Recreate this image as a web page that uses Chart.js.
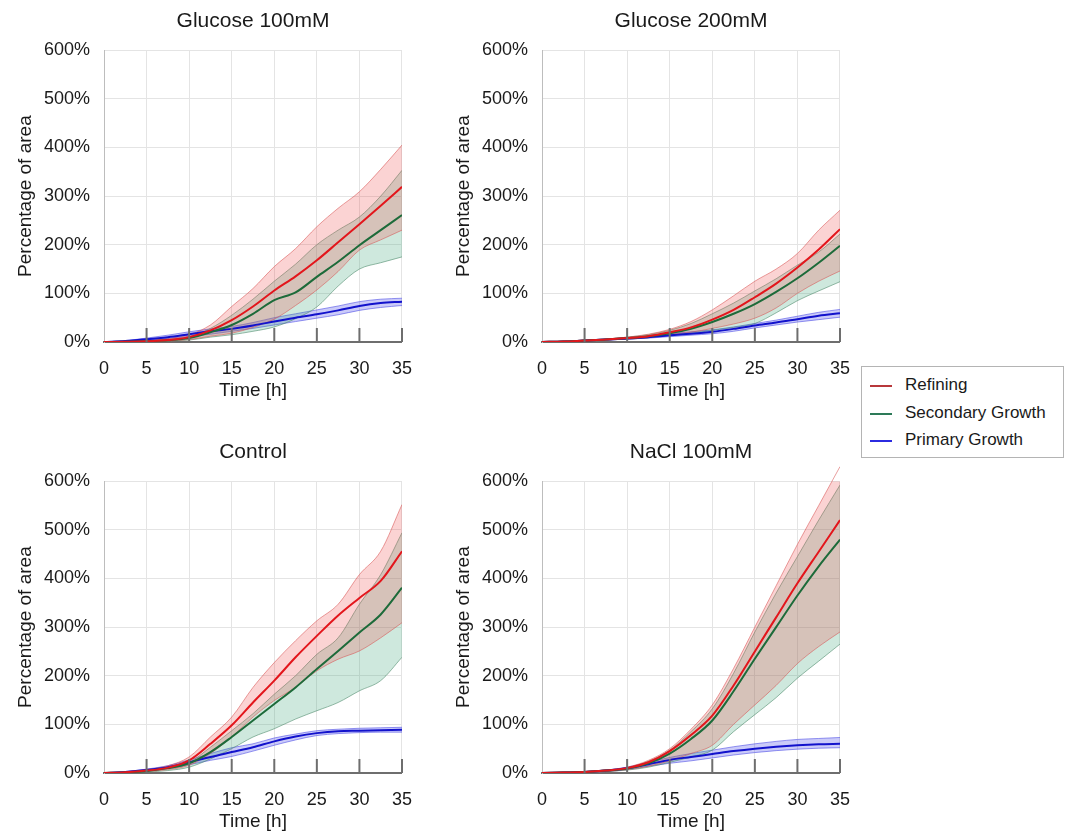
<!DOCTYPE html>
<html>
<head>
<meta charset="utf-8">
<script src="https://cdn.jsdelivr.net/npm/chart.js@4.4.1/dist/chart.umd.min.js"></script>
<style>
  html,body{margin:0;padding:0;background:#fff;}
  body{width:1072px;height:834px;position:relative;overflow:hidden;font-family:"Liberation Sans",Arial,sans-serif;}
  .panel{position:absolute;width:428px;height:402px;}
  .legend{position:absolute;left:861px;top:366px;width:201px;height:90px;border:1px solid #b4b4b4;background:#fff;}
  .legend .row{position:absolute;left:0;height:20px;font-size:17px;color:#1a1a1a;line-height:20px;}
  .legend .sw{position:absolute;left:8px;top:10px;width:22px;height:2px;}
  .legend .lbl{position:absolute;left:43px;top:0;white-space:nowrap;}
</style>
</head>
<body>
<div class="panel" style="left:0;top:0;"><canvas id="cG100"></canvas></div>
<div class="panel" style="left:438px;top:0;"><canvas id="cG200"></canvas></div>
<div class="panel" style="left:0;top:431px;"><canvas id="cCtrl"></canvas></div>
<div class="panel" style="left:438px;top:431px;"><canvas id="cNacl"></canvas></div>

<div class="legend">
  <div class="row" style="top:8px;"><div class="sw" style="background:#b8383b"></div><span class="lbl">Refining</span></div>
  <div class="row" style="top:36px;"><div class="sw" style="background:#2d7a58"></div><span class="lbl">Secondary Growth</span></div>
  <div class="row" style="top:63px;"><div class="sw" style="background:#2b2be0"></div><span class="lbl">Primary Growth</span></div>
</div>

<script>
// time points (h)
const hours = [0, 2.5, 5, 7.5, 10, 12.5, 15, 17.5, 20, 22.5, 25, 27.5, 30, 32.5, 35];
const xTicks = [0, 5, 10, 15, 20, 25, 30, 35];
const yTicks = [0, 100, 200, 300, 400, 500, 600];

// Glucose 100mM
const g100RefMean = [0, 0.5, 1.5, 4, 10, 24, 45, 73, 106, 135, 168, 205, 242, 280, 319];
const g100RefHi   = [0, 1, 3, 7, 15, 35, 73, 110, 155, 192, 237, 275, 309, 355, 405];
const g100RefLo   = [0, 0, 0.5, 2, 5, 12, 18, 30, 47, 75, 107, 145, 189, 210, 230];
const g100SecMean = [0, 0.5, 1.5, 3.5, 8, 20, 35, 58, 86, 102, 134, 165, 199, 230, 261];
const g100SecHi   = [0, 1, 2, 5, 11, 28, 55, 88, 125, 160, 200, 230, 257, 300, 353];
const g100SecLo   = [0, 0, 0.5, 2, 4, 10, 15, 22, 31, 48, 72, 115, 150, 163, 175];
const g100PriMean = [0, 2, 5.5, 10, 16, 22, 27, 34, 42, 50, 57, 65, 74, 80, 83];
const g100PriHi   = [0, 3, 8, 14, 21, 27, 32, 40, 50, 58, 66, 74, 83, 88, 90];
const g100PriLo   = [0, 1, 4, 7, 11, 16, 22, 28, 35, 42, 49, 56, 65, 71, 75];

// Glucose 200mM
const g200RefMean = [0, 1, 3, 5, 8, 12, 20, 30, 46, 66, 92, 120, 153, 190, 232];
const g200RefHi   = [0, 1.5, 4, 6, 10, 16, 26, 42, 66, 95, 125, 150, 182, 230, 271];
const g200RefLo   = [0, 0.5, 2, 4, 6, 9, 15, 20, 28, 37, 49, 70, 100, 125, 146];
const g200SecMean = [0, 1, 3, 5, 8, 12, 18, 27, 41, 58, 78, 103, 131, 163, 198];
const g200SecHi   = [0, 1.5, 4, 6, 10, 15, 24, 38, 58, 80, 105, 130, 158, 185, 222];
const g200SecLo   = [0, 0.5, 2, 4, 6, 9, 14, 18, 24, 30, 38, 60, 85, 105, 124];
const g200PriMean = [0, 1, 3, 5, 7, 10, 14, 17, 21, 27, 34, 40, 47, 54, 59];
const g200PriHi   = [0, 1.5, 4, 6, 9, 12, 17, 21, 25, 31, 38, 45, 53, 61, 67];
const g200PriLo   = [0, 0.5, 2, 4, 6, 8, 11, 14, 17, 22, 29, 35, 41, 46, 51];

// Control
const ctrlRefMean = [0, 1.5, 5, 11, 26, 60, 98, 145, 190, 238, 282, 324, 360, 395, 456];
const ctrlRefHi   = [0, 2.5, 7, 15, 33, 74, 115, 176, 227, 272, 313, 347, 408, 456, 552];
const ctrlRefLo   = [0, 0.5, 3, 7, 16, 40, 74, 115, 149, 176, 210, 234, 251, 278, 309];
const ctrlSecMean = [0, 1, 4, 10, 20, 43, 74, 108, 142, 176, 214, 251, 289, 326, 381];
const ctrlSecHi   = [0, 2, 6, 12, 22, 53, 87, 122, 162, 200, 244, 278, 347, 408, 494];
const ctrlSecLo   = [0, 0.5, 2, 5, 12, 29, 50, 74, 91, 111, 128, 145, 169, 190, 238];
const ctrlPriMean = [0, 2, 6, 12, 22, 33, 43, 53, 65, 75, 82, 86, 87, 88, 89];
const ctrlPriHi   = [0, 3, 8, 15, 27, 40, 52, 60, 72, 80, 87, 90, 92, 93, 94];
const ctrlPriLo   = [0, 1, 4, 9, 17, 26, 34, 45, 57, 68, 77, 81, 83, 84, 84];

// NaCl 100mM
const naclRefMean = [0, 1, 2, 5, 10, 22, 45, 78, 118, 180, 250, 320, 390, 455, 520];
const naclRefHi   = [0, 1.5, 3, 6, 12, 26, 50, 90, 140, 215, 300, 385, 470, 550, 630];
const naclRefLo   = [0, 0.5, 1, 3, 7, 14, 25, 40, 57, 100, 140, 180, 225, 260, 290];
const naclSecMean = [0, 1, 2, 5, 9, 20, 40, 70, 108, 168, 235, 300, 365, 425, 480];
const naclSecHi   = [0, 1.5, 3, 6, 11, 24, 47, 85, 132, 205, 290, 370, 445, 520, 592];
const naclSecLo   = [0, 0.5, 1, 3, 6, 12, 22, 33, 47, 85, 120, 155, 195, 230, 265];
const naclPriMean = [0, 1, 2, 5, 10, 18, 27, 33, 39, 45, 50, 54, 57, 59, 60];
const naclPriHi   = [0, 1.5, 3, 6, 12, 22, 32, 40, 47, 54, 60, 65, 69, 71, 73];
const naclPriLo   = [0, 0.5, 1, 3, 7, 14, 20, 25, 31, 37, 42, 46, 49, 51, 52];

const FONT = '"Liberation Sans", Arial, sans-serif';
const TXT = '#1a1a1a';

const STYLE = {
  ref: { line: '#e3161c', fill: 'rgba(240,70,70,0.24)', edge: 'rgba(215,80,80,0.55)', band: 10, lineOrder: 1 },
  sec: { line: '#1d6b3a', fill: 'rgba(60,165,120,0.25)', edge: 'rgba(80,140,110,0.6)', band: 20, lineOrder: 2 },
  pri: { line: '#1212cc', fill: 'rgba(70,70,235,0.28)', edge: 'rgba(80,80,230,0.6)', band: 30, lineOrder: 3 }
};

const pts = arr => hours.map((h, i) => ({ x: h, y: arr[i] }));

function seriesSets(key, mean, hi, lo) {
  const s = STYLE[key];
  return [
    { data: pts(hi), borderColor: s.edge, borderWidth: 1, fill: false, order: s.band, clip: { left: 0, right: 0, bottom: 0, top: 20 } },
    { data: pts(lo), borderColor: s.edge, borderWidth: 1, fill: '-1', backgroundColor: s.fill, order: s.band },
    { data: pts(mean), borderColor: s.line, borderWidth: 2, fill: false, order: s.lineOrder }
  ];
}

// short tick marks pointing up from the bottom axis
const innerTicks = {
  id: 'innerTicks',
  afterDatasetsDraw(chart) {
    const { ctx, scales: { x, y } } = chart;
    ctx.save();
    ctx.strokeStyle = '#6e6e6e';
    ctx.lineWidth = 2;
    xTicks.forEach(v => {
      if (v === 0) return;
      const px = x.getPixelForValue(v);
      ctx.beginPath();
      ctx.moveTo(px, y.bottom);
      ctx.lineTo(px, y.bottom - 14);
      ctx.stroke();
    });
    ctx.restore();
  }
};

function makePanel(id, title, sets) {
  new Chart(document.getElementById(id), {
    type: 'line',
    data: { datasets: sets },
    plugins: [innerTicks],
    options: {
      responsive: true, maintainAspectRatio: false, animation: false,
      layout: { padding: { left: 0, right: 10, top: 0, bottom: 0 } },
      elements: { point: { radius: 0 }, line: { cubicInterpolationMode: 'monotone' } },
      plugins: {
        legend: { display: false },
        tooltip: { enabled: false },
        title: {
          display: true, text: title, fullSize: false, color: TXT,
          font: { family: FONT, size: 21, weight: 'normal' },
          padding: { top: 9, bottom: 16 }
        }
      },
      scales: {
        x: {
          type: 'linear', min: 0, max: 35,
          afterBuildTicks: sc => { sc.ticks = xTicks.map(v => ({ value: v })); },
          afterFit: sc => { sc.height = 60; },
          grid: { color: '#e4e4e4', drawTicks: false },
          border: { color: '#6e6e6e', width: 2 },
          ticks: { color: TXT, font: { family: FONT, size: 18 }, padding: 16, maxRotation: 0 },
          title: { display: true, text: 'Time [h]', color: TXT, font: { family: FONT, size: 19 }, padding: { top: 0, bottom: 0 } }
        },
        y: {
          min: 0, max: 600,
          afterBuildTicks: sc => { sc.ticks = yTicks.map(v => ({ value: v })); },
          afterFit: sc => { sc.width = 104; },
          grid: { color: '#e4e4e4', drawTicks: false },
          border: { color: '#bdbdbd', width: 1 },
          ticks: { color: TXT, font: { family: FONT, size: 18 }, padding: 14, callback: v => v + '%' },
          title: { display: true, text: 'Percentage of area', color: TXT, font: { family: FONT, size: 19 }, padding: { top: 14, bottom: 0 } }
        }
      }
    }
  });
}

makePanel('cG100', 'Glucose 100mM', [
  ...seriesSets('ref', g100RefMean, g100RefHi, g100RefLo),
  ...seriesSets('sec', g100SecMean, g100SecHi, g100SecLo),
  ...seriesSets('pri', g100PriMean, g100PriHi, g100PriLo)
]);
makePanel('cG200', 'Glucose 200mM', [
  ...seriesSets('ref', g200RefMean, g200RefHi, g200RefLo),
  ...seriesSets('sec', g200SecMean, g200SecHi, g200SecLo),
  ...seriesSets('pri', g200PriMean, g200PriHi, g200PriLo)
]);
makePanel('cCtrl', 'Control', [
  ...seriesSets('ref', ctrlRefMean, ctrlRefHi, ctrlRefLo),
  ...seriesSets('sec', ctrlSecMean, ctrlSecHi, ctrlSecLo),
  ...seriesSets('pri', ctrlPriMean, ctrlPriHi, ctrlPriLo)
]);
makePanel('cNacl', 'NaCl 100mM', [
  ...seriesSets('ref', naclRefMean, naclRefHi, naclRefLo),
  ...seriesSets('sec', naclSecMean, naclSecHi, naclSecLo),
  ...seriesSets('pri', naclPriMean, naclPriHi, naclPriLo)
]);
</script>
</body>
</html>
